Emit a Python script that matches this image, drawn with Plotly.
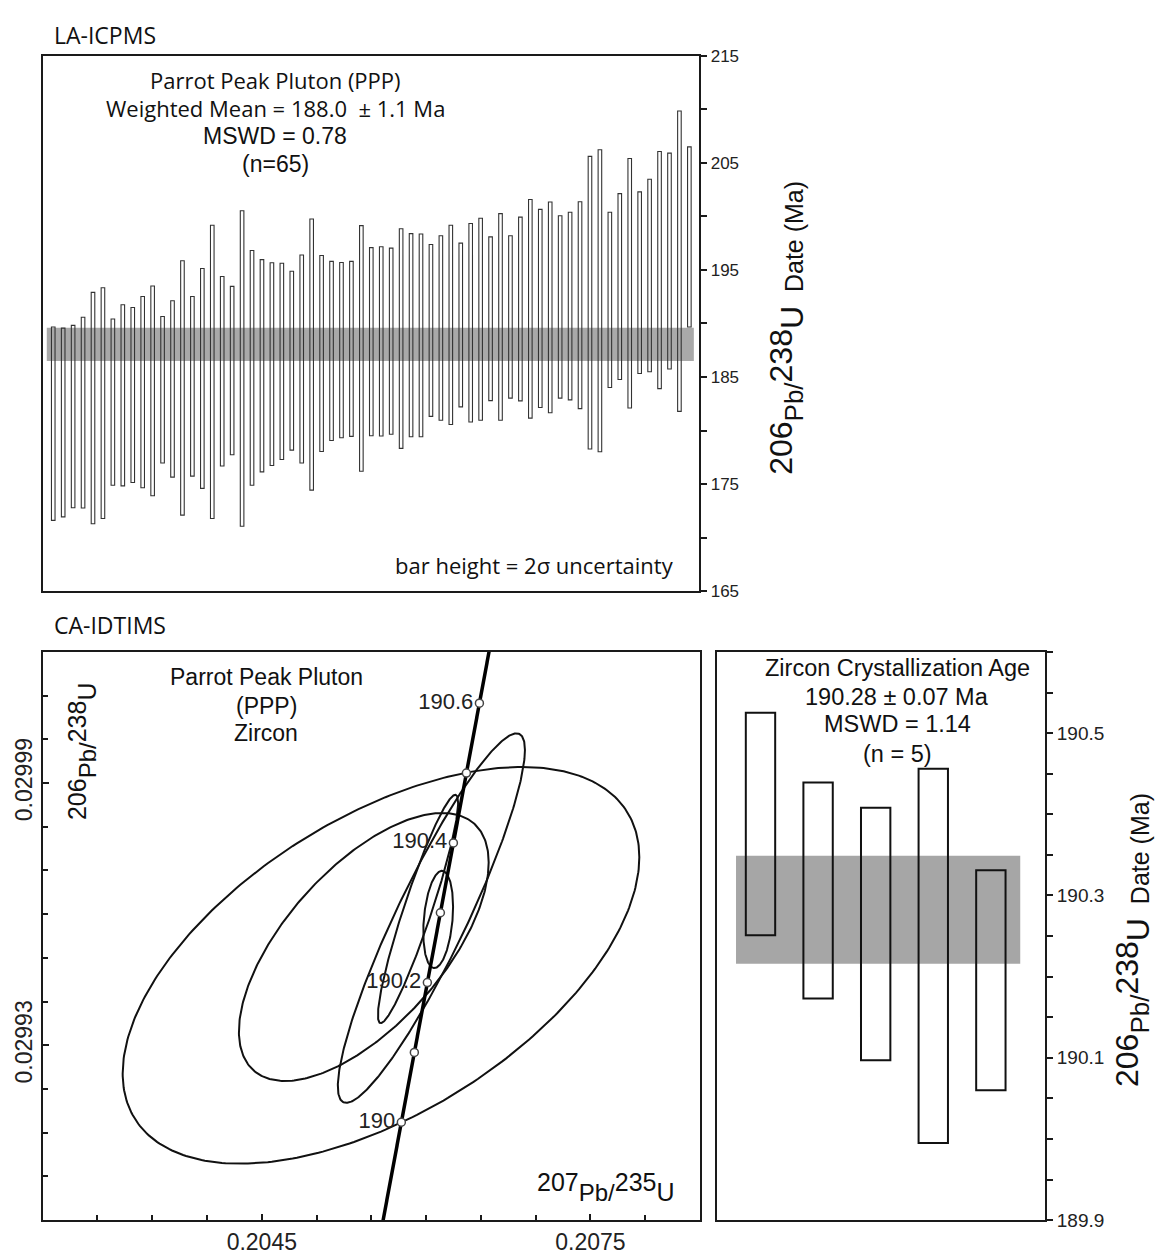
import numpy as np
import plotly.graph_objects as go

W, H = 1160, 1260
def px(x): return x / W
def py(y): return 1 - y / H

# ---------------- LA-ICPMS data (65 spot dates, 2 sigma bars) ----------------
la_idx = list(range(1, 66))
la_low = [171.62, 171.95, 172.80, 172.77, 171.30, 171.79, 174.90, 174.84, 175.16, 174.67,
          173.92, 176.97, 175.66, 172.11, 175.75, 174.61, 171.79, 176.70, 177.75, 171.07,
          174.90, 176.15, 176.74, 177.30, 178.18, 176.97, 174.44, 178.05, 179.07, 179.33,
          179.46, 176.21, 179.52, 179.49, 179.66, 178.34, 179.43, 179.43, 181.33, 180.97,
          180.57, 182.21, 180.80, 180.97, 182.80, 180.97, 183.03, 182.77, 181.16, 182.15,
          181.66, 183.03, 182.87, 182.05, 178.28, 178.02, 184.02, 184.77, 182.11, 185.33,
          185.49, 183.92, 185.75, 181.79, 189.66]
la_high = [189.66, 189.56, 189.82, 190.57, 192.90, 193.33, 190.41, 191.75, 191.49, 192.51,
           193.49, 190.64, 192.11, 195.85, 192.51, 195.13, 199.16, 194.38, 193.46, 200.51,
           196.80, 195.95, 195.66, 195.62, 194.87, 196.38, 199.75, 196.34, 195.79, 195.69,
           195.79, 199.13, 197.07, 197.16, 197.03, 198.84, 198.38, 198.34, 197.36, 198.18,
           199.16, 197.49, 199.33, 199.82, 198.08, 200.25, 198.18, 199.92, 201.56, 200.64,
           201.33, 200.05, 200.38, 201.36, 205.59, 206.21, 200.38, 202.11, 205.39, 202.28,
           203.46, 206.05, 205.89, 209.82, 206.48]
la_band = [186.5, 189.6]
la_range = [165, 215]
la_label_step, la_minor_step = 10, 5

# ---------------- CA-IDTIMS weighted mean bars ----------------
tims_idx = [1, 2, 3, 4, 5]
tims_low = [190.251, 190.173, 190.097, 189.995, 190.060]
tims_high = [190.525, 190.439, 190.408, 190.456, 190.331]
tims_band = [190.216, 190.349]
tims_range = [189.9, 190.6]
tims_label_step, tims_minor_step = 0.2, 0.05

# ---------------- Concordia ellipses (center, half-extents, correlation) ----------------
ell_cx = [0.205588, 0.205431, 0.206048, 0.205926, 0.206110]
ell_cy = [0.0299483, 0.0299525, 0.0299591, 0.0299612, 0.0299588]
ell_ax = [0.002358, 0.001140, 0.000854, 0.000366, 0.000136]
ell_ay = [4.537e-5, 3.066e-5, 4.226e-5, 2.612e-5, 1.113e-5]
ell_rho = [0.545, 0.63, 0.91, 0.93, 0.26]

conc_ages = [190.0, 190.1, 190.2, 190.3, 190.4, 190.5, 190.6]
conc_label_ages = [190.0, 190.2, 190.4, 190.6]
conc_labels = ["190 ", "190.2 ", "190.4 ", "190.6 "]
lam238 = 1.55125e-10
lam235 = 9.8485e-10
conc_x_range = [0.2025, 0.2085]
conc_y_range = [0.029890, 0.030020]

def r238(t):
    return np.exp(lam238 * np.asarray(t) * 1e6) - 1
def r235(t):
    return np.exp(lam235 * np.asarray(t) * 1e6) - 1

fig = go.Figure()

AX = "#1a1a1a"
AR = "Liberation Sans, Arial, sans-serif"
MY = "Open Sans, Noto Sans, sans-serif"
TICK_TOP = dict(family=AR, size=17, color="#222")
TICK_BL = dict(family=AR, size=23, color="#222")
TICK_BR = dict(family=AR, size=19, color="#222")

# ---- top panel bars ----
fig.add_trace(go.Bar(
    x=la_idx, y=[h - l for h, l in zip(la_high, la_low)], base=la_low, width=0.36,
    marker=dict(color="rgba(255,255,255,0)", line=dict(color="#333", width=1.1)),
    xaxis="x", yaxis="y", showlegend=False, hoverinfo="skip"))

# ---- bottom-right bars ----
fig.add_trace(go.Bar(
    x=tims_idx, y=[h - l for h, l in zip(tims_high, tims_low)], base=tims_low, width=0.51,
    marker=dict(color="rgba(255,255,255,0)", line=dict(color="#111", width=2)),
    xaxis="x3", yaxis="y4", showlegend=False, hoverinfo="skip"))

# ---- ellipses ----
t = np.linspace(0, 2 * np.pi, 361)
for cx, cy, ax_, ay_, rho in zip(ell_cx, ell_cy, ell_ax, ell_ay, ell_rho):
    ex = cx + ax_ * np.cos(t)
    ey = cy + ay_ * (rho * np.cos(t) + np.sqrt(1 - rho ** 2) * np.sin(t))
    fig.add_trace(go.Scatter(x=ex, y=ey, mode="lines", line=dict(color="#111", width=2),
                             xaxis="x2", yaxis="y3", showlegend=False, hoverinfo="skip"))

# ---- concordia curve ----
ages_line = np.linspace(189.5, 191.0, 151)
fig.add_trace(go.Scatter(x=r235(ages_line), y=r238(ages_line), mode="lines",
                         line=dict(color="#000", width=3.5),
                         xaxis="x2", yaxis="y3", showlegend=False, hoverinfo="skip"))
fig.add_trace(go.Scatter(x=r235(conc_ages), y=r238(conc_ages), mode="markers",
                         marker=dict(color="white", size=8, line=dict(color="#444", width=1.5)),
                         xaxis="x2", yaxis="y3", showlegend=False, hoverinfo="skip"))
fig.add_trace(go.Scatter(x=r235(conc_label_ages), y=r238(conc_label_ages), mode="text",
                         text=conc_labels, textposition="middle left",
                         textfont=dict(family=AR, size=22, color="#222"),
                         xaxis="x2", yaxis="y3", showlegend=False, hoverinfo="skip"))

# ---- bands (shapes in data coordinates) ----
shapes = [
    dict(type="rect", xref="x", yref="y", x0=0.35, x1=65.45, y0=la_band[0], y1=la_band[1],
         fillcolor="#a9a9a9", line=dict(width=0), layer="below"),
    dict(type="rect", xref="x3", yref="y4", x0=0.575, x1=5.51, y0=tims_band[0], y1=tims_band[1],
         fillcolor="#a6a6a6", line=dict(width=0), layer="below"),
]

common_line = dict(showline=True, linecolor=AX, linewidth=2, mirror=True, showgrid=False, zeroline=False)
def minor(step, side):
    return dict(dtick=step, ticks=side, ticklen=6 if side == "outside" else 5,
                tickwidth=1.5, tickcolor=AX, showgrid=False)

layout = dict(
    width=W, height=H, margin=dict(l=0, r=0, t=0, b=0), autosize=False,
    paper_bgcolor="white", plot_bgcolor="white", barmode="overlay", showlegend=False,
    shapes=shapes,
    # top panel
    xaxis=dict(domain=[px(43.3), px(699.3)], range=[0, 66], showticklabels=False, ticks="",
               anchor="y", **common_line),
    yaxis=dict(domain=[py(591.7), py(47.3)], range=la_range, side="right", anchor="x",
               tick0=la_range[0], dtick=la_label_step, ticks="outside", ticklen=6,
               tickwidth=1.5, tickcolor=AX, tickfont=TICK_TOP,
               minor=minor(la_minor_step, "outside"), **common_line),
    yaxis2=dict(overlaying="y", side="left", anchor="x", range=la_range,
                tick0=la_range[0], dtick=la_label_step, showticklabels=False, ticks="inside",
                ticklen=5, tickwidth=1.5, tickcolor=AX, minor=minor(la_minor_step, "inside"),
                showgrid=False, zeroline=False, showline=False),
    # bottom-left concordia
    xaxis2=dict(domain=[px(42.7), px(700)], range=conc_x_range, anchor="y3",
                tick0=0.2045, dtick=0.003, tickformat=".4f", ticks="inside", ticklen=6,
                tickwidth=1.5, tickcolor=AX, tickfont=TICK_BL,
                minor=minor(0.0005, "inside"), **common_line),
    yaxis3=dict(domain=[py(1230.7), py(653.3)], range=conc_y_range, anchor="x2",
                tick0=0.02993, dtick=0.00006, tickformat=".5f", ticks="inside", ticklen=6,
                tickwidth=1.5, tickcolor=AX, tickfont=TICK_BL, tickangle=-90,
                minor=minor(0.00001, "inside"), **common_line),
    # bottom-right bars
    xaxis3=dict(domain=[px(717.3), px(1045)], range=[0.25, 5.94], anchor="y4",
                showticklabels=False, ticks="", **common_line),
    yaxis4=dict(domain=[py(1230.7), py(653.3)], range=tims_range, side="right", anchor="x3",
                tick0=tims_range[0], dtick=tims_label_step, tickformat=".1f", ticks="outside",
                ticklen=6, tickwidth=1.5, tickcolor=AX, tickfont=TICK_BR,
                minor=minor(tims_minor_step, "outside"), **common_line),
    yaxis5=dict(overlaying="y4", side="left", anchor="x3", range=tims_range,
                tick0=tims_range[0], dtick=tims_label_step, showticklabels=False, ticks="inside",
                ticklen=5, tickwidth=1.5, tickcolor=AX, minor=minor(tims_minor_step, "inside"),
                showgrid=False, zeroline=False, showline=False),
)

def ann(text, x, y, size=18, family=AR, xanchor="center", angle=0, color="#111"):
    return dict(text=text, x=px(x), y=py(y), xref="paper", yref="paper", showarrow=False,
                xanchor=xanchor, yanchor="middle", textangle=angle,
                font=dict(family=family, size=size, color=color))

def iso(a, b, big, small):
    return ('<sup><span style="font-size:%dpx">%s</span></sup>'
            '<span style="font-size:%dpx">Pb/</span>'
            '<sup><span style="font-size:%dpx">%s</span></sup>'
            '<span style="font-size:%dpx">U</span>') % (big, a, small, big, b, big)

side_title = iso("206", "238", 32, 26) + "  Date (Ma)"

annotations = [
    ann("LA-ICPMS", 52, 26, 23, MY, "left"),
    ann("CA-IDTIMS", 52, 626, 23, MY, "left"),
    ann("Parrot Peak Pluton (PPP)", 275, 72, 22, MY),
    ann("Weighted Mean = 188.0  \u00b1 1.1 Ma", 275, 101, 22, MY),
    ann("MSWD = 0.78", 275, 129, 23, AR),
    ann("(n=65)", 275, 158, 23, AR),
    ann("bar height = 2\u03c3 uncertainty", 676, 565, 22, MY, "right"),
    ann(side_title, 787, 324, 25, AR, angle=-90),
    ann("Parrot Peak Pluton", 266, 679, 23, AR),
    ann("(PPP)", 266, 708, 23, AR),
    ann("Zircon", 266, 736, 23, AR),
    ann(iso("207", "235", 25, 24), 677, 1197, 24, AR, "right"),
    ann(iso("206", "238", 25, 24), 82, 754, 24, AR, angle=-90),
    ann("Zircon Crystallization Age", 897, 670, 23.5, AR),
    ann("190.28 \u00b1 0.07 Ma", 897, 699, 23.5, AR),
    ann("MSWD = 1.14", 897, 727, 23.5, AR),
    ann("(n = 5)", 897, 757, 23.5, AR),
    ann(side_title, 1133, 946, 25, AR, angle=-90),
]
layout["annotations"] = annotations
fig.update_layout(**layout)

fig.write_html("out.html")
